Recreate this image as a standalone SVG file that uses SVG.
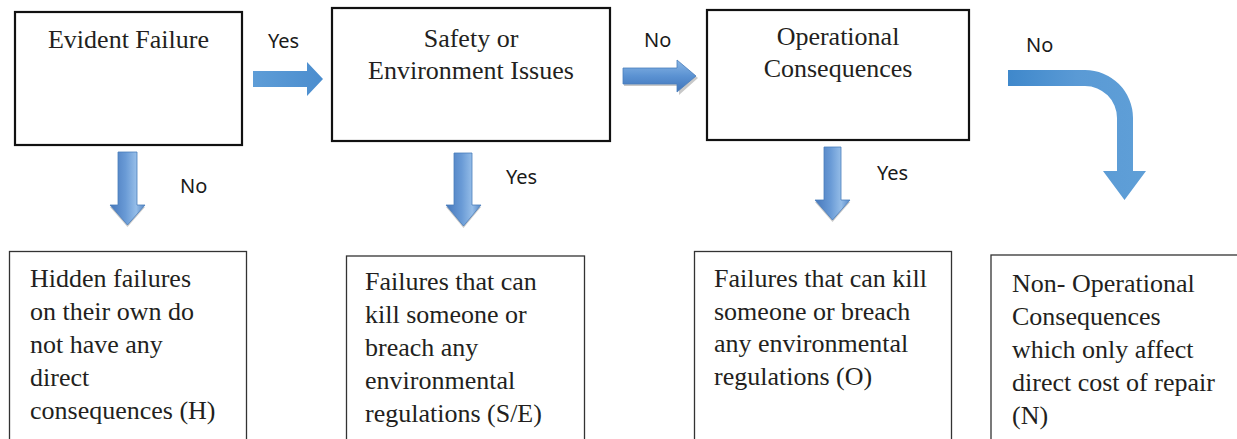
<svg xmlns="http://www.w3.org/2000/svg" width="1237" height="439" viewBox="0 0 1237 439">
<defs>
<style>
.box{fill:#fff;stroke:#111;stroke-width:2.2}
.sub{fill:#fff;stroke:#333;stroke-width:1.3}
.t{font-family:"Liberation Serif","Times New Roman",serif;font-size:26px;fill:#231f20}
.lbl{font-family:"Noto Sans","Liberation Sans",sans-serif;font-size:20px;fill:#1a1a1a}
.flat{fill:url(#gFlat)}
.bevelV{fill:url(#gDown);stroke:#4a7ebb;stroke-width:0.8}
.bevelH{fill:url(#gRight);stroke:#4a7ebb;stroke-width:0.8}
.shadow{fill:#9a9a9a;opacity:0.55}
</style>
<linearGradient id="gFlat" x1="0" y1="0" x2="1" y2="0">
<stop offset="0" stop-color="#5e9dd7"/><stop offset="1" stop-color="#4b8dce"/>
</linearGradient>
<linearGradient id="gBent" x1="0" y1="0" x2="1" y2="0">
<stop offset="0" stop-color="#3f88cb"/><stop offset="0.5" stop-color="#5a9ad5"/><stop offset="1" stop-color="#5f9fd7"/>
</linearGradient>
<linearGradient id="gDown" x1="0" y1="0" x2="1" y2="0">
<stop offset="0" stop-color="#4677bb"/><stop offset="0.45" stop-color="#6a9bd6"/><stop offset="0.75" stop-color="#95bde8"/><stop offset="1" stop-color="#5486c6"/>
</linearGradient>
<linearGradient id="gRight" x1="0" y1="0" x2="0" y2="1">
<stop offset="0" stop-color="#8ab7e6"/><stop offset="0.5" stop-color="#5b92d2"/><stop offset="1" stop-color="#3f74bb"/>
</linearGradient>
</defs>

<g id="node-evident">
<rect class="box" x="15" y="12" width="227" height="133"/>
<text class="t" x="128.5" y="48" text-anchor="middle">Evident Failure</text>
</g>
<g id="node-safety">
<rect class="box" x="332" y="8" width="278" height="133"/>
<text class="t" x="471" y="47" text-anchor="middle">Safety or</text>
<text class="t" x="471" y="79" text-anchor="middle">Environment Issues</text>
</g>
<g id="node-operational">
<rect class="box" x="707" y="10" width="262" height="130"/>
<text class="t" x="838" y="45" text-anchor="middle">Operational</text>
<text class="t" x="838" y="77" text-anchor="middle">Consequences</text>
</g>

<g id="node-hidden">
<rect class="sub" x="9.5" y="251.5" width="237" height="200"/>
<text class="t" x="30" y="287">Hidden failures</text>
<text class="t" x="30" y="320">on their own do</text>
<text class="t" x="30" y="353">not have any</text>
<text class="t" x="30" y="386">direct</text>
<text class="t" x="30" y="419">consequences (H)</text>
</g>
<g id="node-se">
<rect class="sub" x="346.5" y="256" width="238" height="200"/>
<text class="t" x="365" y="290">Failures that can</text>
<text class="t" x="365" y="323">kill someone or</text>
<text class="t" x="365" y="356">breach any</text>
<text class="t" x="365" y="389">environmental</text>
<text class="t" x="365" y="422">regulations (S/E)</text>
</g>
<g id="node-o">
<rect class="sub" x="694.5" y="251.5" width="257" height="200"/>
<text class="t" x="714" y="287">Failures that can kill</text>
<text class="t" x="714" y="319.5">someone or breach</text>
<text class="t" x="714" y="352">any environmental</text>
<text class="t" x="714" y="384.5">regulations (O)</text>
</g>
<g id="node-n">
<rect class="sub" x="991" y="255" width="260" height="200"/>
<text class="t" x="1012" y="292">Non- Operational</text>
<text class="t" x="1012" y="325">Consequences</text>
<text class="t" x="1012" y="358">which only affect</text>
<text class="t" x="1012" y="391">direct cost of repair</text>
<text class="t" x="1012" y="424">(N)</text>
</g>

<g id="connectors">
<path class="flat" d="M253,71 H307 V62 L323,79 L307,96 V87 H253 Z"/>
<text class="lbl" x="268" y="48">Yes</text>

<path class="shadow" d="M624,70 H679 V62 L698,78 L679,95 V86 H624 Z"/>
<path class="bevelH" d="M623,68 H677 V60 L696,76 L677,92 V84 H623 Z"/>
<text class="lbl" x="644" y="47">No</text>

<path fill="url(#gBent)" d="M1008,70 H1085 A48,48 0 0 1 1133,118 V171 H1146 L1124.5,200 L1103,171 H1117 V118 A32,32 0 0 0 1085,86 H1008 Z"/>
<text class="lbl" x="1026" y="52">No</text>

<path class="shadow" d="M118,154 H137 V207 H145 L127.5,227 L110,207 H118 Z"/>
<path class="bevelV" d="M118,152 H137 V205 H145 L127.5,225 L110,205 H118 Z"/>
<text class="lbl" x="180" y="193">No</text>

<path class="shadow" d="M454,155 H472 V207 H481 L463.5,228 L446,207 H454 Z"/>
<path class="bevelV" d="M454,153 H472 V205 H481 L463.5,226 L446,205 H454 Z"/>
<text class="lbl" x="506" y="184">Yes</text>

<path class="shadow" d="M824,149 H841 V202 H850 L832.5,222 L815,202 H824 Z"/>
<path class="bevelV" d="M824,147 H841 V200 H850 L832.5,220 L815,200 H824 Z"/>
<text class="lbl" x="877" y="180">Yes</text>
</g>
</svg>
